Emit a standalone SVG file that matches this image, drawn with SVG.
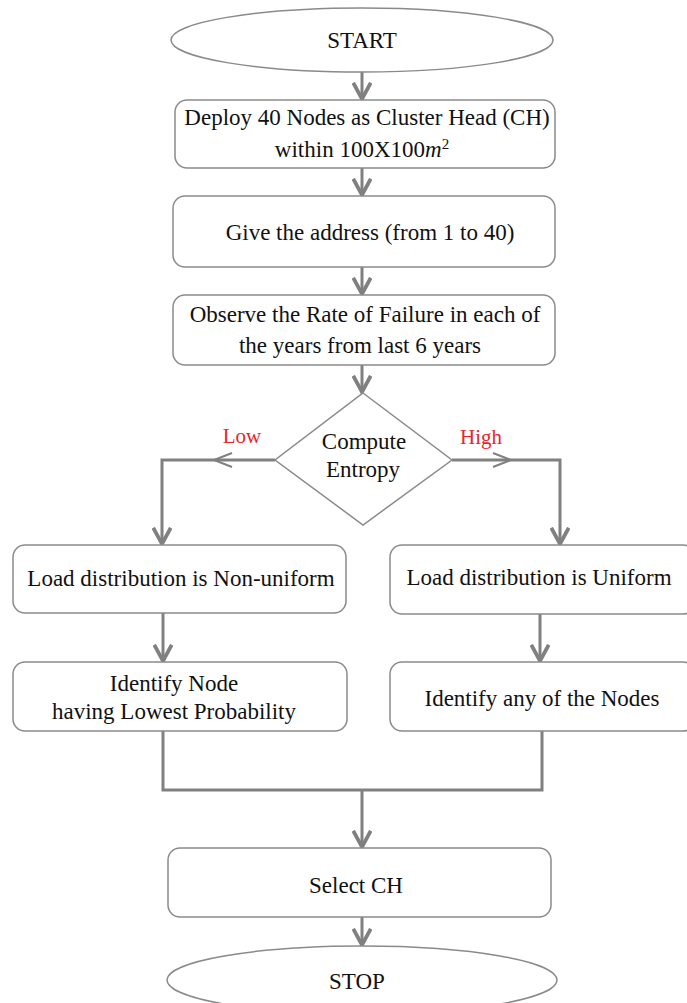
<svg xmlns="http://www.w3.org/2000/svg" width="687" height="1003" viewBox="0 0 687 1003">
<style>
.box{fill:#fff;stroke:#8a8a8a;stroke-width:1.5}
.t{font-family:'Liberation Serif','Times New Roman','DejaVu Serif',serif;font-size:23px;fill:#111;text-anchor:middle}
.red{font-family:'Liberation Serif','Times New Roman','DejaVu Serif',serif;font-size:21px;fill:#e8262a;text-anchor:middle}
.c{fill:none;stroke:#808080;stroke-width:3}
.h{fill:none;stroke:#808080;stroke-width:2}
</style>
<defs>
<marker id="arr" markerUnits="userSpaceOnUse" markerWidth="20" markerHeight="20" refX="14" refY="8" orient="auto" viewBox="0 0 16 16">
<path d="M1,1 L14,8 L1,15" fill="none" stroke="#808080" stroke-width="3"/>
</marker>
</defs>
<rect width="687" height="1003" fill="#fff"/>
<g id="connectors">
<path class="c" d="M362,72 V99" marker-end="url(#arr)"/>
<path class="c" d="M362,168 V195" marker-end="url(#arr)"/>
<path class="c" d="M362,267 V294" marker-end="url(#arr)"/>
<path class="c" d="M362,365 V392" marker-end="url(#arr)"/>
<path class="c" d="M275,460 H162 V544" marker-end="url(#arr)"/>
<path class="h" d="M232,453 L214,460 L232,467"/>
<path class="c" d="M452,460 H560 V544" marker-end="url(#arr)"/>
<path class="h" d="M493,453 L511,460 L493,467"/>
<path class="c" d="M163,613 V661" marker-end="url(#arr)"/>
<path class="c" d="M540,614 V661" marker-end="url(#arr)"/>
<path class="c" d="M163,731 V790 H542 V731"/>
<path class="c" d="M362,790 V847" marker-end="url(#arr)"/>
<path class="c" d="M362,917 V945" marker-end="url(#arr)"/>
</g>
<g id="start">
<ellipse class="box" cx="362" cy="40" rx="191" ry="32"/>
<text class="t" x="362" y="48">START</text>
</g>
<g id="deploy">
<rect class="box" x="175" y="100" width="380" height="68" rx="12"/>
<text class="t" x="367" y="125">Deploy 40 Nodes as Cluster Head (CH)</text>
<text class="t" x="362" y="157">within 100X100<tspan font-style="italic">m</tspan><tspan dy="-8" font-size="15">2</tspan></text>
</g>
<g id="address">
<rect class="box" x="173" y="196" width="382" height="71" rx="12"/>
<text class="t" x="370" y="240">Give the address (from 1 to 40)</text>
</g>
<g id="observe">
<rect class="box" x="173" y="295" width="382" height="70" rx="12"/>
<text class="t" x="365" y="322">Observe the Rate of Failure in each of</text>
<text class="t" x="360" y="353">the years from last 6 years</text>
</g>
<g id="entropy">
<polygon class="box" points="363,393 452,460 363,525 275,460"/>
<text class="t" x="364" y="449">Compute</text>
<text class="t" x="363" y="477">Entropy</text>
</g>
<text class="red" x="242" y="443">Low</text>
<text class="red" x="481" y="444">High</text>
<g id="nonuniform">
<rect class="box" x="13" y="545" width="333" height="68" rx="12"/>
<text class="t" x="181" y="586">Load distribution is Non-uniform</text>
</g>
<g id="uniform">
<rect class="box" x="390" y="545" width="305" height="69" rx="12"/>
<text class="t" x="539" y="585">Load distribution is Uniform</text>
</g>
<g id="lowest">
<rect class="box" x="13" y="662" width="334" height="69" rx="12"/>
<text class="t" x="174" y="691">Identify Node</text>
<text class="t" x="174" y="719">having Lowest Probability</text>
</g>
<g id="anynode">
<rect class="box" x="390" y="662" width="305" height="69" rx="12"/>
<text class="t" x="542" y="706">Identify any of the Nodes</text>
</g>
<g id="select">
<rect class="box" x="168" y="848" width="383" height="69" rx="12"/>
<text class="t" x="356" y="893">Select CH</text>
</g>
<g id="stop">
<ellipse class="box" cx="362" cy="980" rx="195" ry="34"/>
<text class="t" x="357" y="989">STOP</text>
</g>
</svg>
